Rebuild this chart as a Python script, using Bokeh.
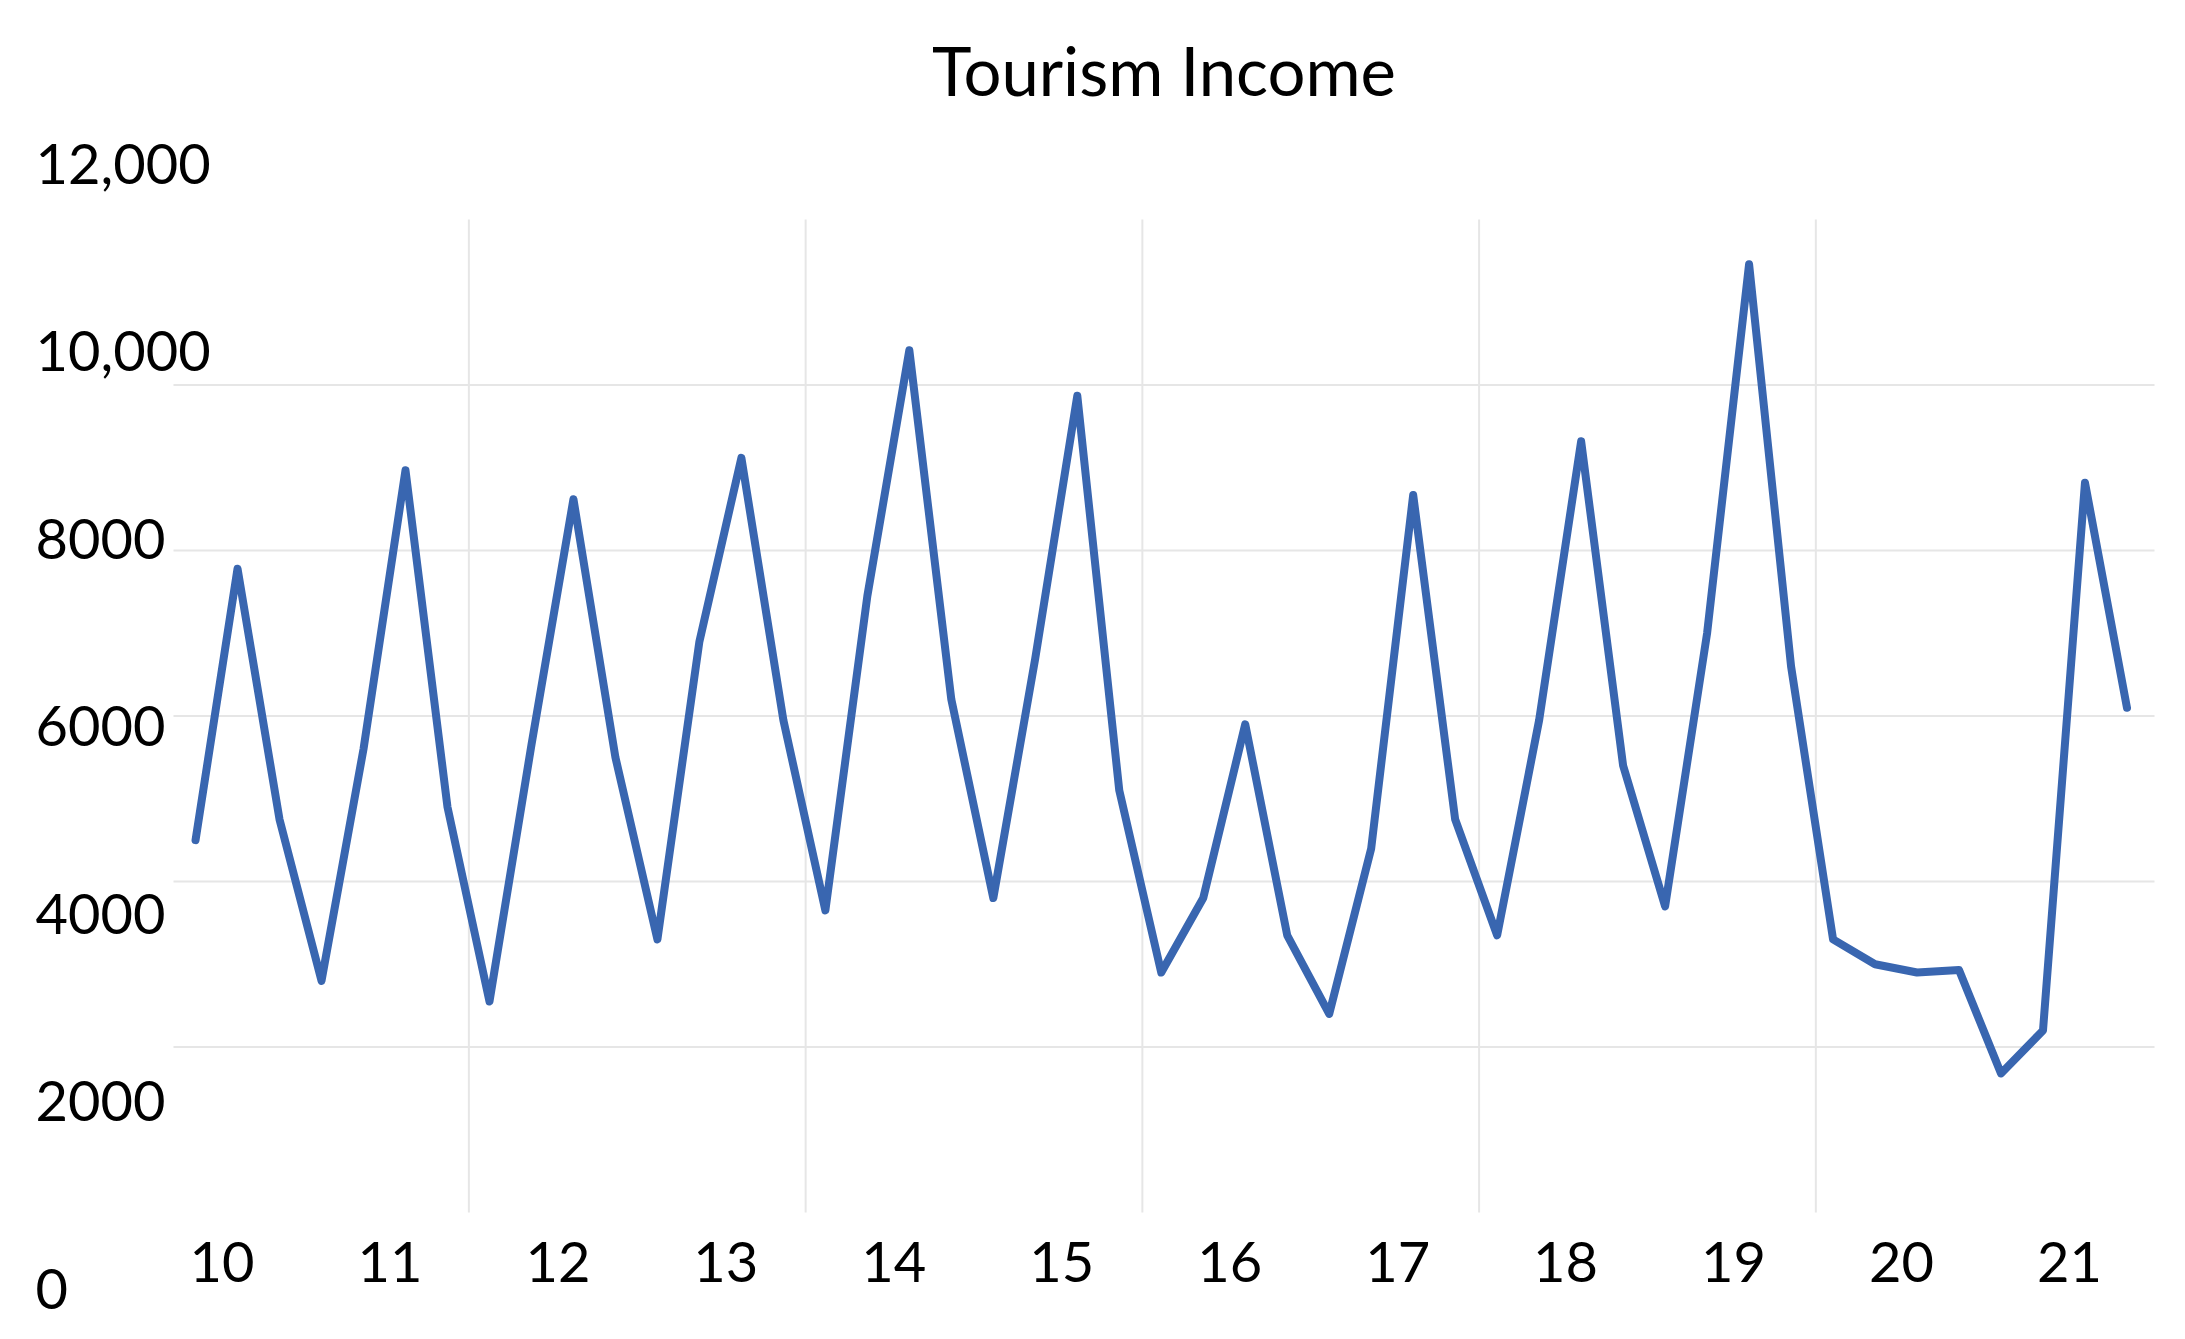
from bokeh.plotting import figure
from bokeh.models import (Range1d, FixedTicker, ColumnDataSource, LabelSet)
from bokeh.core.properties import value
from bokeh.embed import file_html
from bokeh.resources import INLINE

# ---------------- data ----------------
title_text = "Tourism Income"
year_labels = ["10", "11", "12", "13", "14", "15", "16", "17", "18", "19", "20", "21"]
income = [
    4500, 7780, 4750, 2800, 5600, 8970, 4900, 2550, 5650, 8620,
    5500, 3300, 6900, 9120, 5950, 3650, 7450, 10420, 6200,
    3800, 6700, 9870, 5100, 2900, 3800, 5900, 3350, 2400, 4400,
    8670, 4750, 3350, 5950, 9320, 5400, 3700, 7000, 11460,
    6600, 3300, 3000, 2900, 2930, 1680, 2200, 8820, 6100,
]
y_tick_values = [0, 2000, 4000, 6000, 8000, 10000, 12000]
y_tick_labels = ["0", "2000", "4000", "6000", "8000", "10,000", "12,000"]
grid_values = [2000, 4000, 6000, 8000, 10000]

# quarterly positions on a two-digit-year axis
first_pos = 9.8425
x_pos = [first_pos + i / 4 for i in range(len(income))]
year_ticks = [int(s) for s in year_labels]
vgrid = [11.47 + 2.005 * k for k in range(5)]

# ---------------- geometry (canvas pixels) ----------------
W, H = 2185, 1339
PLOT_L, PLOT_R, PLOT_T, PLOT_B = 173, 2154, 219, 1212
YMAX = 12000
PX_PER_YEAR = 167.95
YEAR0_PX = 221.5                      # where the "10" tick sits
px_per_val = (PLOT_B - PLOT_T) / YMAX

def px_to_x(px):
    return year_ticks[0] + (px - YEAR0_PX) / PX_PER_YEAR

def py_to_y(py):
    return (PLOT_B - py) / px_per_val

# y tick labels are spaced on their own scale (baseline of "0" at 1308, "12,000" at 183)
LBL_BASE0, LBL_STEP = 1308, (1308 - 183) / YMAX

FONT = "Lato"
BLUE = "#3966B0"
GRID = "#e6e6e6"

p = figure(width=W, height=H, output_backend="svg", toolbar_location=None,
           x_range=Range1d(px_to_x(0), px_to_x(W)),
           y_range=Range1d(py_to_y(H), py_to_y(0)),
           y_axis_location=None, title=None,
           min_border=0, min_border_left=0, min_border_right=0,
           min_border_top=0, min_border_bottom=0)
p.outline_line_color = None
p.background_fill_color = "white"
p.border_fill_color = "white"
p.grid.visible = False

p.extra_x_ranges = {"px": Range1d(0, W)}
p.extra_y_ranges = {"px": Range1d(H, 0),
                    "lbl": Range1d((LBL_BASE0 - H) / LBL_STEP, LBL_BASE0 / LBL_STEP)}

# gridlines, limited to the plotting area
x_left, x_right = px_to_x(PLOT_L), px_to_x(PLOT_R)
p.segment(x0=[x_left] * len(grid_values), x1=[x_right] * len(grid_values),
          y0=grid_values, y1=grid_values, line_color=GRID, line_width=2)
p.segment(x0=vgrid, x1=vgrid, y0=[0] * len(vgrid), y1=[YMAX] * len(vgrid),
          line_color=GRID, line_width=2)

# x axis at the bottom of the plotting area
ax = p.xaxis[0]
ax.fixed_location = 0
ax.ticker = FixedTicker(ticks=year_ticks)
ax.major_label_overrides = {t: s for t, s in zip(year_ticks, year_labels)}
ax.axis_line_color = None
ax.major_tick_line_color = None
ax.minor_tick_line_color = None
ax.major_tick_out = 0
ax.major_tick_in = 0
ax.major_label_standoff = 29
ax.major_label_text_font = FONT
ax.major_label_text_font_size = "56px"
ax.major_label_text_color = "black"

# the series
p.line(x_pos, income, line_width=8, line_color=BLUE,
       line_join="round", line_cap="round")

# y labels (offset from the grid as in the original)
ysrc = ColumnDataSource(dict(v=y_tick_values, t=y_tick_labels))
p.add_layout(LabelSet(x=35, y="v", text="t", source=ysrc,
                      x_range_name="px", y_range_name="lbl",
                      text_font=value(FONT), text_font_size=value("56px"),
                      text_color="black", text_align="left",
                      text_baseline="alphabetic"))

# title
tsrc = ColumnDataSource(dict(t=[title_text]))
p.add_layout(LabelSet(x=(PLOT_L + PLOT_R) / 2, y=95, text="t", source=tsrc,
                      x_range_name="px", y_range_name="px",
                      text_font=value(FONT), text_font_size=value("67px"),
                      text_color="black", text_align="center",
                      text_baseline="alphabetic"))

open("out.html", "w").write(file_html(p, INLINE))
